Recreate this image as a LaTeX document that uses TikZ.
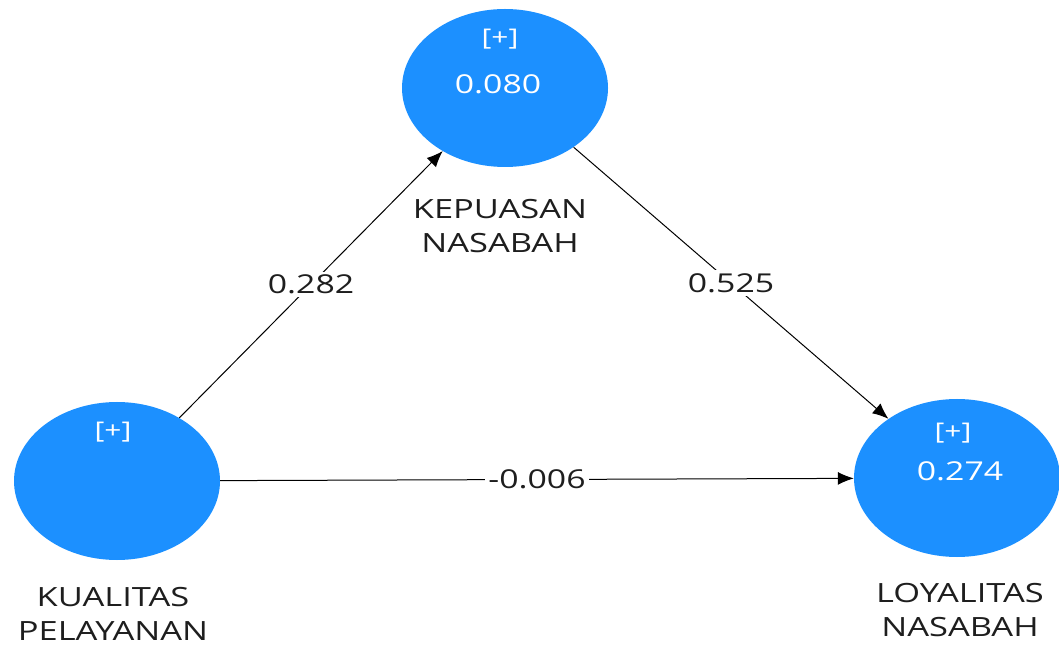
\documentclass[tikz,border=0pt]{standalone}
\usepackage{fontspec}
\setmainfont{Open Sans}[FakeStretch=1.3]
\usepackage{xcolor}
\usetikzlibrary{arrows.meta,positioning,shapes.geometric}
\definecolor{lvblue}{RGB}{28,144,255}
\definecolor{lvtext}{RGB}{30,30,30}

\begin{document}
\begin{tikzpicture}[
  x=1pt, y=1pt,
  lv/.style={ellipse, fill=lvblue, minimum width=206pt, minimum height=158pt, inner sep=0pt},
  plus/.style={text=white, font=\fontsize{23}{26}\selectfont, inner sep=0pt},
  rsq/.style={text=white, font=\fontsize{26}{30}\selectfont, inner sep=0pt},
  lvname/.style={align=center, text=lvtext, font=\fontsize{26.5}{34}\selectfont, inner sep=0pt},
  coef/.style={fill=white, text=lvtext, font=\fontsize{26}{30}\selectfont, inner sep=3pt},
  arr/.style={-{Latex[length=16pt,width=13pt]}, line width=1pt, draw=black}
]
\useasboundingbox (0,0) rectangle (1059,648);
\node[lv] (kp) at (505,560) {};
\node[lv] (kl) at (117,167) {};
\node[lv] (ly) at (957,170) {};
\node[plus] (kp-plus) at (500,609) {[+]};
\node[rsq] (kp-r2) at (498,564) {0.080};
\node[plus] (kl-plus) at (113,216) {[+]};
\node[plus] (ly-plus) at (953,215) {[+]};
\node[rsq] (ly-r2) at (960,177) {0.274};
\node[lvname] (kp-name) at (500,422) {KEPUASAN\\NASABAH};
\node[lvname] (kl-name) at (113,34) {KUALITAS\\PELAYANAN};
\node[lvname] (ly-name) at (960,38) {LOYALITAS\\NASABAH};
\draw[arr] (kl) -- node[coef] {0.282} (kp);
\draw[arr] (kp) -- node[coef] {0.525} (ly);
\draw[arr] (kl) -- node[coef] {-0.006} (ly);
\end{tikzpicture}
\end{document}
